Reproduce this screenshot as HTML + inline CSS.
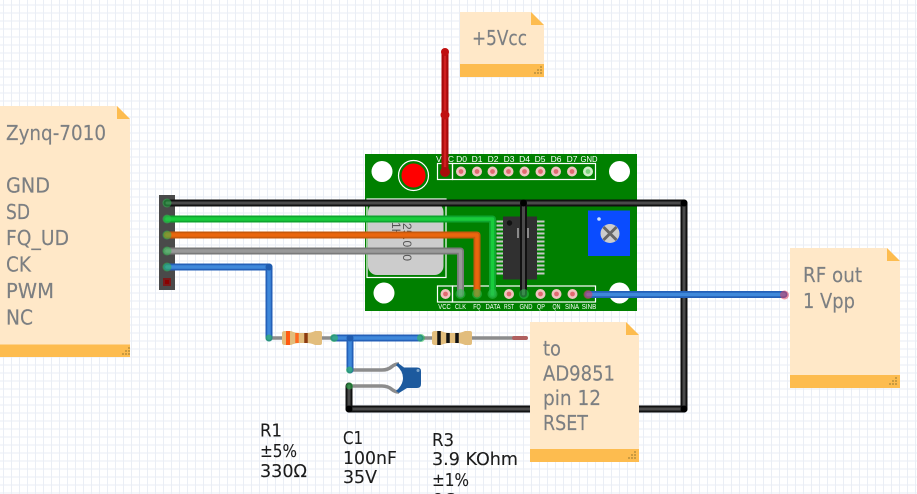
<!DOCTYPE html>
<html><head><meta charset="utf-8"><style>
html,body{margin:0;padding:0;background:#fff;width:917px;height:494px;overflow:hidden}
svg{display:block}
.n{font-family:"DejaVu Sans",sans-serif;font-size:20px;fill:#7c7f82;stroke:#7c7f82;stroke-width:.15px}
.b{font-family:"DejaVu Sans",sans-serif;font-size:17.5px;fill:#1c1c1c;stroke:#1c1c1c;stroke-width:.1px}
.p{font-family:"Liberation Sans",sans-serif;font-size:7px;fill:#fff;text-anchor:middle}
.t{font-family:"Liberation Sans",sans-serif;font-size:8.5px;fill:#fff;text-anchor:middle}
.c{font-family:"Liberation Sans",sans-serif;font-size:12px;fill:#555}
</style></head><body>
<svg width="917" height="494" viewBox="0 0 917 494" xmlns="http://www.w3.org/2000/svg">
<defs>
<pattern id="g" x="3" y="4.5" width="8" height="8" patternUnits="userSpaceOnUse">
<path d="M0.5 0V8M0 .5H8" stroke="#eaeef5" stroke-width="1" fill="none"/>
</pattern>
<g id="pin"><circle r="5" fill="#f0c4c0"/><circle r="2.4" fill="#e06a70"/></g>
<path id="res" d="M0 -5Q0 -7 3 -7H9Q13 -5 18 -5H24Q29 -5 33 -7H38Q40 -7 40 -5V5Q40 7 38 7H33Q29 5 24 5H18Q13 5 9 7H3Q0 7 0 5Z" fill="#e2bd7c"/>
</defs>
<rect width="917" height="494" fill="#fff"/>
<rect width="917" height="494" fill="url(#g)"/>

<!-- board -->
<rect x="365" y="154" width="272" height="157" fill="#008000"/>
<circle cx="382" cy="171.5" r="10.5" fill="#fff"/>
<circle cx="619.5" cy="171.5" r="10.5" fill="#fff"/>
<circle cx="384" cy="293" r="10.5" fill="#fff"/>
<circle cx="619.5" cy="293" r="10.5" fill="#fff"/>
<circle cx="413.5" cy="175.5" r="15" fill="#008000" stroke="#fff" stroke-width="1.2"/>
<circle cx="413.5" cy="175.5" r="12" fill="#f00"/>
<g fill="none" stroke="#fff" stroke-width="1.2">
<rect x="437.5" y="163.5" width="15" height="16"/>
<rect x="452.5" y="163.5" width="143" height="16"/>
<rect x="437.5" y="286" width="15" height="16"/>
<rect x="452.5" y="286" width="143" height="16"/>
<rect x="367" y="199" width="79" height="78.5"/>
</g>
<rect x="368" y="203" width="75.5" height="72" rx="9" fill="#ccc"/>
<text class="c" transform="translate(392 222) rotate(90)">1H</text>
<text class="c" transform="translate(403 223) rotate(90)" textLength="38">25.000</text>
<rect x="503" y="216.5" width="34" height="63" fill="#303030"/>
<circle cx="509.5" cy="223" r="2.7" fill="#111"/>
<path d="M518 228V238M528 228V238" stroke="#bbb" stroke-width="1.3"/>
<path d="M496.5 221.500H503M496.500 225.500H503M496.500 229.500H503M496.500 233.500H503M496.500 237.500H503M496.500 241.500H503M496.500 245.500H503M496.500 249.500H503M496.500 253.500H503M496.500 257.500H503M496.500 261.500H503M496.500 265.500H503M496.500 269.500H503M496.500 273.500H503M537 221.500H544.500M537 225.500H544.500M537 229.500H544.500M537 233.500H544.500M537 237.500H544.500M537 241.500H544.500M537 245.500H544.500M537 249.500H544.500M537 253.500H544.500M537 257.500H544.500M537 261.500H544.500M537 265.500H544.500M537 269.500H544.500M537 273.500H544.500" stroke="#c8c8c8" stroke-width="2"/>
<rect x="588" y="210.500" width="42" height="45.500" fill="#0a4cff"/>
<circle cx="599" cy="219" r="1.800" fill="#cfe0ff"/>
<circle cx="610" cy="233.500" r="9.500" fill="#ccc"/>
<path d="M603.500 227L616.500 240M616.500 227L603.500 240" stroke="#666" stroke-width="3"/>
<use href="#pin" x="461" y="171.500"/><use href="#pin" x="477" y="171.500"/><use href="#pin" x="492.500" y="171.500"/><use href="#pin" x="508.500" y="171.500"/><use href="#pin" x="524.500" y="171.500"/><use href="#pin" x="540.500" y="171.500"/><use href="#pin" x="556" y="171.500"/><use href="#pin" x="572" y="171.500"/>
<circle cx="588" cy="171.500" r="5" fill="#d0ecc8"/><circle cx="588" cy="171.500" r="2.400" fill="#7fd27f"/>
<use href="#pin" x="445.500" y="294"/><use href="#pin" x="509" y="294"/><use href="#pin" x="540.500" y="294"/><use href="#pin" x="556.500" y="294"/><use href="#pin" x="572.500" y="294"/>
<text class="t" x="445" y="162">VCC</text><text class="t" x="461.500" y="162">D0</text><text class="t" x="477" y="162">D1</text><text class="t" x="493" y="162">D2</text><text class="t" x="509" y="162">D3</text><text class="t" x="524.500" y="162">D4</text><text class="t" x="540" y="162">D5</text><text class="t" x="556" y="162">D6</text><text class="t" x="572" y="162">D7</text><text class="t" x="589" y="162" textLength="17" lengthAdjust="spacingAndGlyphs">GND</text>
<g><text class="p" x="444.500" y="309" textLength="12.500" lengthAdjust="spacingAndGlyphs">VCC</text><text class="p" x="460.500" y="309" textLength="11" lengthAdjust="spacingAndGlyphs">CLK</text><text class="p" x="477" y="309" textLength="7.500" lengthAdjust="spacingAndGlyphs">FQ</text><text class="p" x="493" y="309" textLength="15" lengthAdjust="spacingAndGlyphs">DATA</text><text class="p" x="509" y="309" textLength="10" lengthAdjust="spacingAndGlyphs">RST</text><text class="p" x="526" y="309" textLength="13" lengthAdjust="spacingAndGlyphs">GND</text><text class="p" x="541" y="309" textLength="8" lengthAdjust="spacingAndGlyphs">QP</text><text class="p" x="556.500" y="309" textLength="8" lengthAdjust="spacingAndGlyphs">QN</text><text class="p" x="572" y="309" textLength="14" lengthAdjust="spacingAndGlyphs">SINA</text><text class="p" x="589" y="309" textLength="14.500" lengthAdjust="spacingAndGlyphs">SINB</text></g>

<!-- header -->
<rect x="159" y="195" width="16" height="95" fill="#4a4a4a"/>
<rect x="163" y="278" width="8" height="8" fill="#7a1a1a"/><rect x="165" y="280" width="4" height="4" fill="#8a0000"/>

<!-- resistors & cap leads -->
<path d="M270 338H334M421 338H514" stroke="#8c8c8c" stroke-width="3.500" fill="none"/>
<path d="M514 338H526" stroke="#b06060" stroke-width="4" stroke-linecap="round"/>
<use href="#res" x="282" y="338"/>
<path d="M288 331V345" stroke="#ff5a10" stroke-width="4"/><path d="M297 333V343" stroke="#ff6a20" stroke-width="3.500"/><path d="M306 333V343" stroke="#8a3a10" stroke-width="3.500"/>
<use href="#res" x="432" y="338"/>
<path d="M439 331V345" stroke="#111" stroke-width="3.500"/><path d="M448 333V343" stroke="#111" stroke-width="3.500"/><path d="M457 333V343" stroke="#111" stroke-width="3.500"/>
<path d="M349 370H382Q388 370 392 366.500Q395 364 399 364M349 386H382Q388 386 392 389.500Q395 392 399 392" stroke="#8c8c8c" stroke-width="3.500" fill="none"/>
<path d="M398 363L404 367.500H417Q421 367.500 421 371V384Q421 388 417 388H407L399 393L396 391Q403 385 403 378Q403 371 396 365Z" fill="#1d5a9e"/>
<circle cx="418" cy="370.500" r="1.500" fill="#7fa6cc"/>

<!-- wires -->
<g fill="none" stroke-linecap="round" stroke-linejoin="round">
<g stroke="#111" stroke-width="7">
<path d="M167 203H523L684 203V409H349V386"/><path d="M523.500 203V294"/>
</g>
<g stroke="#4a4a4a" stroke-width="3">
<path d="M167 203H523L684 203V409H349V386"/><path d="M523.500 203V294"/>
</g>
<path d="M167 219H492.500V294" stroke="#0ea52e" stroke-width="7"/><path d="M167 219H492.500V294" stroke="#18cc3c" stroke-width="3.500"/>
<path d="M167 235H477V294" stroke="#c85a0c" stroke-width="7"/><path d="M167 235H477V294" stroke="#ea660e" stroke-width="3.500"/>
<path d="M167 251H460.500V294" stroke="#7a7a7a" stroke-width="7"/><path d="M167 251H460.500V294" stroke="#999" stroke-width="3.500"/>
<g stroke="#2460b8" stroke-width="7"><path d="M167 267H269V338"/><path d="M334 338H420"/><path d="M350 338V370"/><path d="M588 294.500H784"/></g>
<g stroke="#3f88da" stroke-width="3.500"><path d="M167 267H269V338"/><path d="M334 338H420"/><path d="M350 338V370"/><path d="M588 294.500H784"/></g>
<path d="M445 52V172" stroke="#a80c0c" stroke-width="7"/><path d="M445 52V172" stroke="#d02020" stroke-width="2.500"/>
</g>
<!-- junctions -->
<circle cx="523.500" cy="203" r="3.500" fill="#000"/><circle cx="684" cy="203" r="3.500" fill="#000"/><circle cx="684" cy="409" r="3.500" fill="#000"/><circle cx="349" cy="409" r="3.500" fill="#000"/>
<circle cx="269" cy="267" r="3.500" fill="#1f5cb0"/><circle cx="350" cy="338" r="3.500" fill="#1f5cb0"/>
<circle cx="445" cy="115" r="4.500" fill="#c01010"/><circle cx="445" cy="52" r="4" fill="#c01010"/><circle cx="445" cy="172" r="5" fill="#a80c0c"/>
<!-- connection rings -->
<g fill="#30c050" fill-opacity=".55">
<circle cx="167" cy="203" r="4.500"/><circle cx="167" cy="219" r="4.500"/><circle cx="167" cy="235" r="4.500"/><circle cx="167" cy="251" r="4.500"/><circle cx="167" cy="267" r="4.500"/>
<circle cx="269" cy="338" r="3.500"/><circle cx="334" cy="338" r="4"/><circle cx="421" cy="338" r="4"/><circle cx="349.500" cy="370" r="3.500"/><circle cx="349.500" cy="386" r="3.500"/>
<circle cx="460.500" cy="294" r="5"/><circle cx="477" cy="294" r="5"/><circle cx="492.500" cy="294" r="5"/><circle cx="524" cy="294" r="5"/>
</g>
<g fill="#e04060" fill-opacity=".55"><circle cx="588" cy="294.500" r="4.500"/><circle cx="784.500" cy="295" r="4.500"/></g>

<!-- notes -->
<path d="M0 106H117L130 119V357H0Z" fill="#ffe8c8"/><path d="M117 106L130 119H117Z" fill="#fdbc4f"/><rect x="0" y="344.500" width="130" height="12.500" fill="#fdbc4f"/>
<path d="M460 12H531L544 25V77H460Z" fill="#ffe8c8"/><path d="M531 12L544 25H531Z" fill="#fdbc4f"/><rect x="460" y="64" width="84" height="13" fill="#fdbc4f"/>
<path d="M790 248H887L900 261V388H790Z" fill="#ffe8c8"/><path d="M887 248L900 261H887Z" fill="#fdbc4f"/><rect x="790" y="375" width="110" height="13" fill="#fdbc4f"/>
<path d="M530 322H626L639 335V462H530Z" fill="#ffe8c8"/><path d="M626 322L639 335H626Z" fill="#fdbc4f"/><rect x="530" y="449" width="109" height="13" fill="#fdbc4f"/>
<g fill="#c99a40">
<path d="M122 353h2v2h-2zM125 353h2v2h-2zM128 353h2v2h-2zM125 350h2v2h-2zM128 350h2v2h-2zM128 347h2v2h-2z"/>
<path d="M534 72h2v2h-2zM537 72h2v2h-2zM540 72h2v2h-2zM537 69h2v2h-2zM540 69h2v2h-2zM540 66h2v2h-2z"/>
<path d="M889 383h2v2h-2zM892 383h2v2h-2zM895 383h2v2h-2zM892 380h2v2h-2zM895 380h2v2h-2zM895 377h2v2h-2z"/>
<path d="M628 457h2v2h-2zM631 457h2v2h-2zM634 457h2v2h-2zM631 454h2v2h-2zM634 454h2v2h-2zM634 451h2v2h-2z"/>
</g>
<g lengthAdjust="spacingAndGlyphs">
<text class="n" x="6" y="140" textLength="100" lengthAdjust="spacingAndGlyphs">Zynq-7010</text>
<text class="n" x="6" y="192.500" textLength="44" lengthAdjust="spacingAndGlyphs">GND</text>
<text class="n" x="6" y="219" textLength="24" lengthAdjust="spacingAndGlyphs">SD</text>
<text class="n" x="6" y="245" textLength="63" lengthAdjust="spacingAndGlyphs">FQ_UD</text>
<text class="n" x="6" y="271.500" textLength="25" lengthAdjust="spacingAndGlyphs">CK</text>
<text class="n" x="6" y="298" textLength="48" lengthAdjust="spacingAndGlyphs">PWM</text>
<text class="n" x="6" y="324.500" textLength="27" lengthAdjust="spacingAndGlyphs">NC</text>
<text class="n" x="472" y="45" textLength="55" lengthAdjust="spacingAndGlyphs">+5Vcc</text>
<text class="n" x="803" y="282" textLength="59" lengthAdjust="spacingAndGlyphs">RF out</text>
<text class="n" x="803" y="308" textLength="52" lengthAdjust="spacingAndGlyphs">1 Vpp</text>
<text class="n" x="543" y="355.500" textLength="18" lengthAdjust="spacingAndGlyphs">to</text>
<text class="n" x="543" y="380.500" textLength="72" lengthAdjust="spacingAndGlyphs">AD9851</text>
<text class="n" x="543" y="405" textLength="58" lengthAdjust="spacingAndGlyphs">pin 12</text>
<text class="n" x="543" y="430" textLength="45" lengthAdjust="spacingAndGlyphs">RSET</text>

<text class="b" x="260" y="436.500" textLength="22" lengthAdjust="spacingAndGlyphs">R1</text>
<text class="b" x="260" y="457" textLength="37" lengthAdjust="spacingAndGlyphs">±5%</text>
<text class="b" x="260" y="477" textLength="47" lengthAdjust="spacingAndGlyphs">330Ω</text>
<text class="b" x="343" y="444" textLength="20" lengthAdjust="spacingAndGlyphs">C1</text>
<text class="b" x="343" y="464" textLength="54" lengthAdjust="spacingAndGlyphs">100nF</text>
<text class="b" x="343" y="483" textLength="34" lengthAdjust="spacingAndGlyphs">35V</text>
<text class="b" x="432" y="446" textLength="22" lengthAdjust="spacingAndGlyphs">R3</text>
<text class="b" x="432" y="465" textLength="86" lengthAdjust="spacingAndGlyphs">3.9 KOhm</text>
<text class="b" x="432" y="486" textLength="37" lengthAdjust="spacingAndGlyphs">±1%</text>
<text class="b" x="432" y="506" textLength="26" lengthAdjust="spacingAndGlyphs">0Ω</text>
</g>
</svg>
</body></html>
